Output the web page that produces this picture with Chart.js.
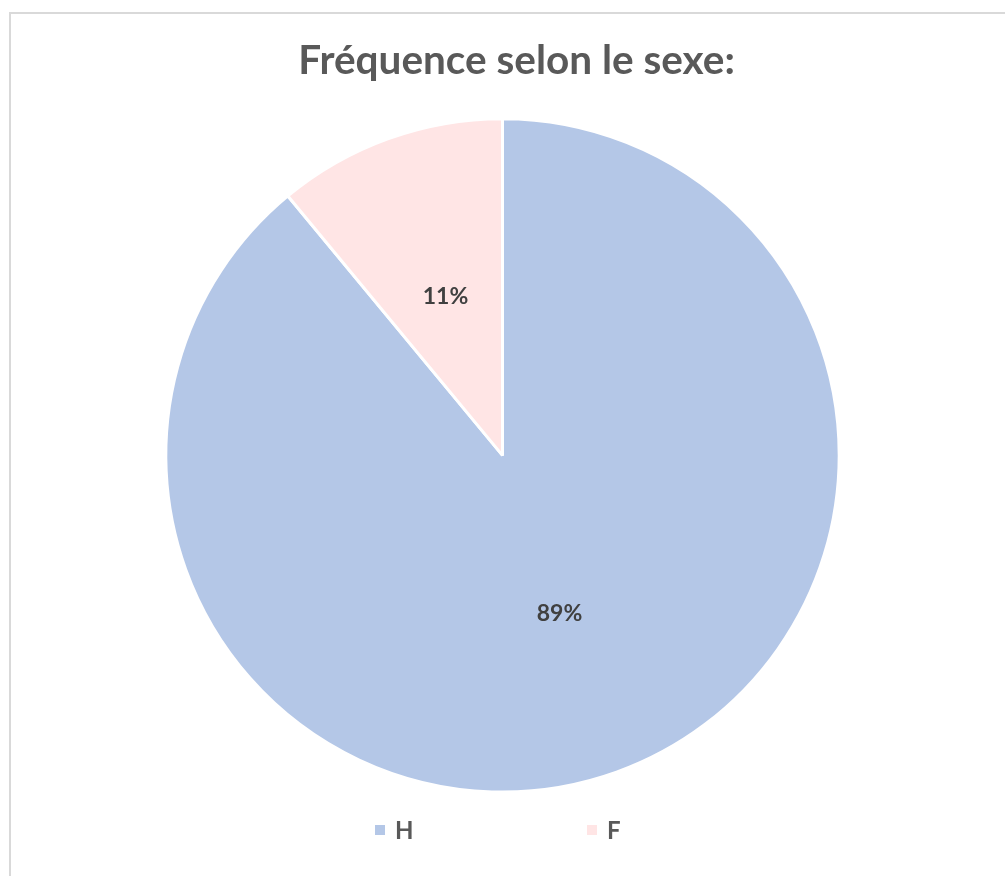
<!DOCTYPE html>
<html>
<head>
<meta charset="utf-8">
<script src="https://cdn.jsdelivr.net/npm/chart.js@4"></script>
<style>
  html, body { margin: 0; padding: 0; background: #fff; overflow: hidden; }
  #frame { position: absolute; left: 9px; top: 12px; width: 1100px; height: 1000px; border: 2px solid #d9d9d9; box-sizing: border-box; }
  #wrap { position: absolute; left: 0; top: 0; width: 1005px; height: 876px; }
</style>
</head>
<body>
<div id="frame"></div>
<div id="wrap"><canvas id="c" width="1005" height="876"></canvas></div>
<script>
const titleText = "Fréquence selon le sexe:";
const categories = ["H", "F"];
const values = [89, 11];
const colors = ["#B4C7E7", "#FFE5E5"];
const FONT = "Lato, 'Open Sans', sans-serif";

const titleShift = {
  id: 'titleShift',
  afterLayout(chart) {
    if (chart.titleBlock) {
      chart.titleBlock.left += 28;
    }
  }
};

const dataLabels = {
  id: 'dataLabels',
  afterDatasetsDraw(chart) {
    const ctx = chart.ctx;
    const meta = chart.getDatasetMeta(0);
    const ds = chart.data.datasets[0].data;
    const total = ds.reduce((a, b) => a + b, 0);
    ctx.save();
    ctx.font = "bold 23px " + FONT;
    ctx.fillStyle = "#404040";
    ctx.textAlign = "center";
    ctx.textBaseline = "middle";
    meta.data.forEach((arc, i) => {
      const p = arc.tooltipPosition();
      ctx.fillText(Math.round(ds[i] / total * 100) + "%", p.x, p.y);
    });
    ctx.restore();
  }
};

const customLegend = {
  id: 'customLegend',
  afterDraw(chart) {
    const ctx = chart.ctx;
    const xs = [375, 587];
    const y = 830;
    ctx.save();
    ctx.font = "bold 24px " + FONT;
    ctx.textBaseline = "middle";
    ctx.textAlign = "left";
    chart.data.labels.forEach((lab, i) => {
      ctx.fillStyle = chart.data.datasets[0].backgroundColor[i];
      ctx.fillRect(xs[i], y - 5, 10, 10);
      ctx.fillStyle = "#595959";
      ctx.fillText(lab, xs[i] + 20, y + 1);
    });
    ctx.restore();
  }
};

new Chart(document.getElementById('c'), {
  type: 'pie',
  data: {
    labels: categories,
    datasets: [{
      data: values,
      backgroundColor: colors,
      borderColor: '#ffffff',
      borderWidth: 3
    }]
  },
  options: {
    responsive: false,
    animation: false,
    layout: { padding: { top: 0, bottom: 82.4, left: 0, right: 0 } },
    plugins: {
      legend: { display: false },
      tooltip: { enabled: false },
      title: {
        display: true,
        text: titleText,
        color: '#595959',
        font: { family: FONT, size: 40.5, weight: 'bold', lineHeight: 1.2 },
        padding: { top: 36.7, bottom: 31.9 }
      }
    }
  },
  plugins: [titleShift, dataLabels, customLegend]
});
</script>
</body>
</html>
